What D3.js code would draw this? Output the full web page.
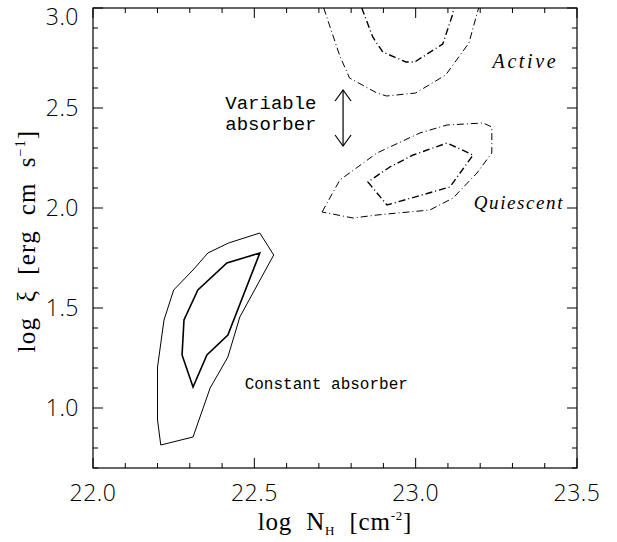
<!DOCTYPE html>
<html>
<head>
<meta charset="utf-8">
<script src="https://cdn.jsdelivr.net/npm/d3@7/dist/d3.min.js"></script>
<style>
  html, body { margin: 0; padding: 0; background: #fff; }
  svg { display: block; }
  svg text { white-space: pre; }
</style>
</head>
<body>
<svg id="chart" width="617" height="542"></svg>
<script>
// ---- data ----
const xDomain = [22.0, 23.5];
const yDomain = [0.7, 3.0];
const xTickLabels = ["22.0", "22.5", "23.0", "23.5"];
const yTickLabels = ["1.0", "1.5", "2.0", "2.5", "3.0"];

// Constant absorber (solid contours)
const constOuter = [[22.517,1.875],[22.56,1.765],[22.455,1.455],[22.418,1.255],[22.363,1.10],[22.31,0.855],
  [22.21,0.815],[22.2,0.94],[22.2,1.205],[22.22,1.44],[22.25,1.59],[22.31,1.69],[22.356,1.775],[22.42,1.825]];
const constInner = [[22.517,1.775],[22.418,1.365],[22.353,1.265],[22.31,1.105],[22.276,1.265],[22.282,1.44],
  [22.325,1.59],[22.415,1.725]];

// Quiescent (dash-dot contours)
const quiOuter = [[22.71,1.98],[22.765,2.14],[22.88,2.275],[23.013,2.375],[23.097,2.415],[23.209,2.425],
  [23.236,2.405],[23.236,2.275],[23.19,2.175],[23.116,2.05],[23.044,1.99],[22.88,1.965],[22.806,1.95]];
const quiInner = [[22.852,2.13],[22.911,2.015],[23.106,2.105],[23.178,2.265],[23.097,2.325],[22.992,2.265],
  [22.92,2.205]];

// Active (dash-dot contours, open at top)
const actOuter = [[22.715,3.0],[22.765,2.76],[22.795,2.65],[22.88,2.575],[22.91,2.56],[23.0,2.575],
  [23.093,2.665],[23.165,2.825],[23.195,3.0]];
const actInner = [[22.833,3.0],[22.867,2.855],[22.898,2.78],[22.97,2.73],[22.997,2.73],[23.084,2.82],
  [23.115,2.97],[23.118,3.0]];

const arrowSpan = {x: 22.775, y0: 2.59, y1: 2.31};

// ---- layout ----
const svg = d3.select("#chart");
const L = 93, R = 577, T = 8, B = 468;
const x = d3.scaleLinear().domain(xDomain).range([L, R]);
const y = d3.scaleLinear().domain(yDomain).range([B, T]);
const ink = "#000";

const g = svg.append("g");

// frame
g.append("rect").attr("x", L).attr("y", T).attr("width", R - L).attr("height", B - T)
  .attr("fill", "none").attr("stroke", ink).attr("stroke-width", 1.2);

// ticks
const xMinor = d3.range(22.0, 23.5001, 0.1).map(v => +v.toFixed(2));
const yMinor = d3.range(0.7, 3.0001, 0.1).map(v => +v.toFixed(2));
const isMajor = v => Math.abs(v * 2 - Math.round(v * 2)) < 1e-6;
const majLen = 10, minLen = 5;
xMinor.forEach(v => {
  const len = isMajor(v) ? majLen : minLen;
  g.append("line").attr("x1", x(v)).attr("x2", x(v)).attr("y1", B).attr("y2", B - len).attr("stroke", ink);
  g.append("line").attr("x1", x(v)).attr("x2", x(v)).attr("y1", T).attr("y2", T + len).attr("stroke", ink);
});
yMinor.forEach(v => {
  const len = isMajor(v) ? majLen : minLen;
  g.append("line").attr("y1", y(v)).attr("y2", y(v)).attr("x1", L).attr("x2", L + len).attr("stroke", ink);
  g.append("line").attr("y1", y(v)).attr("y2", y(v)).attr("x1", R).attr("x2", R - len).attr("stroke", ink);
});

// tick labels
const tickFont = "'Open Sans', 'Liberation Sans', Arial, sans-serif";
xTickLabels.forEach(t => {
  g.append("text").attr("x", x(+t)).attr("y", 501).attr("text-anchor", "middle")
    .attr("font-family", tickFont).attr("font-weight", 300).attr("font-size", 23).attr("letter-spacing", 0.5)
    .attr("fill", ink).text(t);
});
yTickLabels.forEach(t => {
  g.append("text").attr("x", 79).attr("y", Math.max(y(+t) + 8, 25)).attr("text-anchor", "end")
    .attr("font-family", tickFont).attr("font-weight", 300).attr("font-size", 23).attr("letter-spacing", 0.5)
    .attr("fill", ink).text(t);
});

// axis titles
const serif = "'Liberation Serif', 'DejaVu Serif', serif";
const xt = g.append("text").attr("x", 335).attr("y", 530).attr("text-anchor", "middle")
  .attr("font-family", serif).attr("font-size", 25).attr("letter-spacing", 0.8).attr("fill", ink);
xt.append("tspan").text("log  N");
xt.append("tspan").attr("font-size", 13).attr("dy", 5).text("H");
xt.append("tspan").attr("dy", -5).text("  [cm");
xt.append("tspan").attr("font-size", 13).attr("dy", -10).text("-2");
xt.append("tspan").attr("dy", 10).text("]");

const yt = g.append("text").attr("transform", "translate(35,241) rotate(-90)").attr("text-anchor", "middle")
  .attr("font-family", serif).attr("font-size", 25).attr("letter-spacing", 1.2).attr("fill", ink);
yt.append("tspan").text("log  ξ  [erg  cm  s");
yt.append("tspan").attr("font-size", 14).attr("dy", -10).text("−1");
yt.append("tspan").attr("dy", 10).text("]");

// contours
const lineGen = d3.line().x(d => x(d[0])).y(d => y(d[1]));
const closedGen = d3.line().x(d => x(d[0])).y(d => y(d[1])).curve(d3.curveLinearClosed);
const dashDot = "7,3,1,3";

g.append("path").attr("d", closedGen(constOuter)).attr("fill", "none").attr("stroke", ink).attr("stroke-width", 1);
g.append("path").attr("d", closedGen(constInner)).attr("fill", "none").attr("stroke", ink).attr("stroke-width", 1.6);
g.append("path").attr("d", closedGen(quiOuter)).attr("fill", "none").attr("stroke", ink).attr("stroke-width", 1)
  .attr("stroke-dasharray", dashDot);
g.append("path").attr("d", closedGen(quiInner)).attr("fill", "none").attr("stroke", ink).attr("stroke-width", 1.4)
  .attr("stroke-dasharray", dashDot);
g.append("path").attr("d", lineGen(actOuter)).attr("fill", "none").attr("stroke", ink).attr("stroke-width", 1)
  .attr("stroke-dasharray", dashDot);
g.append("path").attr("d", lineGen(actInner)).attr("fill", "none").attr("stroke", ink).attr("stroke-width", 1.4)
  .attr("stroke-dasharray", dashDot);

// double arrow
const ax = x(arrowSpan.x), ay0 = y(arrowSpan.y0), ay1 = y(arrowSpan.y1);
g.append("line").attr("x1", ax).attr("x2", ax).attr("y1", ay0).attr("y2", ay1).attr("stroke", ink).attr("stroke-width", 1.2);
g.append("path").attr("d", `M${ax-8},${ay0+11}L${ax},${ay0}L${ax+8},${ay0+11}`).attr("fill", "none").attr("stroke", ink).attr("stroke-width", 1.2);
g.append("path").attr("d", `M${ax-8},${ay1-11}L${ax},${ay1}L${ax+8},${ay1-11}`).attr("fill", "none").attr("stroke", ink).attr("stroke-width", 1.2);

// annotations
const mono = "'Liberation Mono', 'Courier New', monospace";
g.append("text").attr("x", x(22.41)).attr("y", y(2.495)).attr("font-family", mono).attr("font-size", 19)
  .attr("fill", ink).text("Variable");
g.append("text").attr("x", x(22.41)).attr("y", y(2.39)).attr("font-family", mono).attr("font-size", 19)
  .attr("fill", ink).text("absorber");
g.append("text").attr("x", x(22.47)).attr("y", y(1.095)).attr("font-family", mono).attr("font-size", 16)
  .attr("fill", ink).text("Constant absorber");
g.append("text").attr("x", x(23.34)).attr("y", y(2.70)).attr("text-anchor", "middle").attr("font-family", serif)
  .attr("font-style", "italic").attr("font-size", 20).attr("letter-spacing", 2.6).attr("fill", ink).text("Active");
g.append("text").attr("x", x(23.32)).attr("y", y(1.995)).attr("text-anchor", "middle").attr("font-family", serif)
  .attr("font-style", "italic").attr("font-size", 19).attr("letter-spacing", 1.6).attr("fill", ink).text("Quiescent");
</script>
</body>
</html>
